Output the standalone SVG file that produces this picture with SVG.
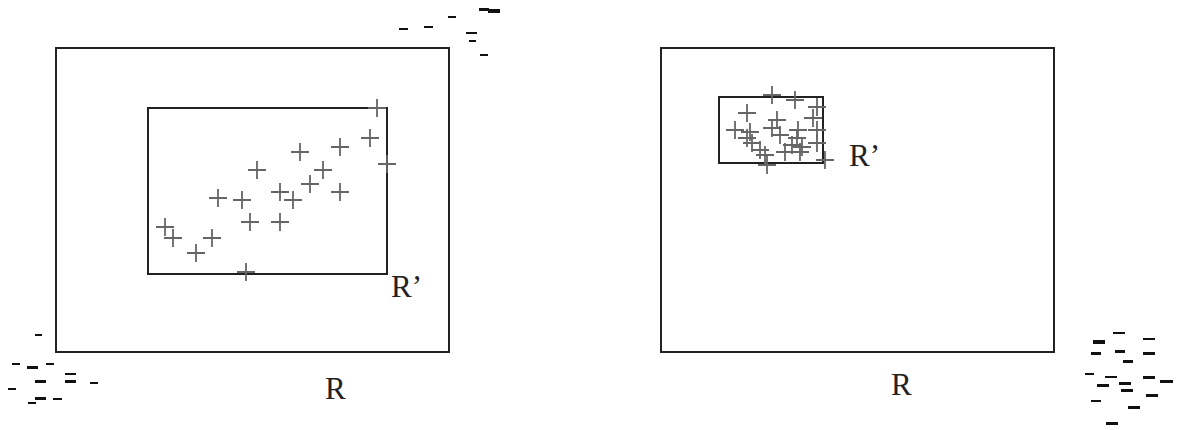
<svg xmlns="http://www.w3.org/2000/svg" width="1181" height="430" viewBox="0 0 1181 430">
<style>
.box{fill:none;stroke:#222;stroke-width:2}
.p{fill:none;stroke:#666;stroke-width:1.8}
.lbl{font-family:"Liberation Serif",serif;font-size:31px;fill:#222}
.n{fill:#111}
</style>
<defs>
<path id="pl" class="p" d="M-9,0H9M0,-9V9"/>
</defs>
<rect width="1181" height="430" fill="#fff"/>
<g id="left-R">
<rect class="box" x="56" y="48" width="393" height="304"/>
<text class="lbl" x="325" y="399">R</text>
</g>
<g id="left-Rp">
<rect class="box" x="148" y="108" width="239" height="166"/>
<text class="lbl" x="391" y="297">R’</text>
</g>
<g id="left-points">
<use href="#pl" x="377" y="108"/>
<use href="#pl" x="370" y="138"/>
<use href="#pl" x="340" y="147"/>
<use href="#pl" x="300" y="152"/>
<use href="#pl" x="387" y="164"/>
<use href="#pl" x="257" y="170"/>
<use href="#pl" x="323" y="170"/>
<use href="#pl" x="310" y="184"/>
<use href="#pl" x="340" y="192"/>
<use href="#pl" x="280" y="192"/>
<use href="#pl" x="293" y="200"/>
<use href="#pl" x="218" y="198"/>
<use href="#pl" x="242" y="200"/>
<use href="#pl" x="250" y="222"/>
<use href="#pl" x="280" y="222"/>
<use href="#pl" x="165" y="227"/>
<use href="#pl" x="173" y="238"/>
<use href="#pl" x="212" y="238"/>
<use href="#pl" x="196" y="253"/>
<use href="#pl" x="246" y="272"/>
</g>
<g id="right-R">
<rect class="box" x="661" y="48" width="393" height="304"/>
<text class="lbl" x="891" y="395">R</text>
</g>
<g id="right-Rp">
<rect class="box" x="719" y="97" width="104" height="66"/>
<text class="lbl" x="849" y="166">R’</text>
</g>
<g id="right-points">
<use href="#pl" x="772" y="95"/>
<use href="#pl" x="795" y="100"/>
<use href="#pl" x="817" y="107"/>
<use href="#pl" x="747" y="113"/>
<use href="#pl" x="777" y="120"/>
<use href="#pl" x="813" y="118"/>
<use href="#pl" x="735" y="130"/>
<use href="#pl" x="772" y="128"/>
<use href="#pl" x="798" y="130"/>
<use href="#pl" x="817" y="130"/>
<use href="#pl" x="750" y="132"/>
<use href="#pl" x="747" y="138"/>
<use href="#pl" x="780" y="135"/>
<use href="#pl" x="797" y="138"/>
<use href="#pl" x="752" y="143"/>
<use href="#pl" x="792" y="145"/>
<use href="#pl" x="802" y="147"/>
<use href="#pl" x="817" y="143"/>
<use href="#pl" x="760" y="150"/>
<use href="#pl" x="785" y="152"/>
<use href="#pl" x="800" y="152"/>
<use href="#pl" x="765" y="155"/>
<use href="#pl" x="767" y="165"/>
<use href="#pl" x="825" y="160"/>
</g>
<g id="noise">
<rect class="n" x="479" y="8" width="10" height="3"/>
<rect class="n" x="488" y="9" width="12" height="4"/>
<rect class="n" x="448" y="16" width="8" height="2"/>
<rect class="n" x="424" y="26" width="9" height="2"/>
<rect class="n" x="399" y="28" width="9" height="2"/>
<rect class="n" x="466" y="32" width="11" height="2"/>
<rect class="n" x="469" y="40" width="7" height="2"/>
<rect class="n" x="480" y="54" width="8" height="2"/>
<rect class="n" x="35" y="334" width="7" height="2"/>
<rect class="n" x="12" y="363" width="8" height="2"/>
<rect class="n" x="27" y="366" width="11" height="3"/>
<rect class="n" x="46" y="363" width="8" height="2"/>
<rect class="n" x="65" y="373" width="11" height="2"/>
<rect class="n" x="35" y="380" width="11" height="3"/>
<rect class="n" x="65" y="380" width="11" height="3"/>
<rect class="n" x="90" y="382" width="8" height="2"/>
<rect class="n" x="8" y="388" width="8" height="2"/>
<rect class="n" x="35" y="397" width="11" height="3"/>
<rect class="n" x="28" y="402" width="8" height="2"/>
<rect class="n" x="53" y="398" width="9" height="2"/>
<rect class="n" x="1113" y="332" width="12" height="2"/>
<rect class="n" x="1143" y="338" width="12" height="2"/>
<rect class="n" x="1093" y="340" width="12" height="4"/>
<rect class="n" x="1091" y="352" width="10" height="3"/>
<rect class="n" x="1115" y="350" width="10" height="3"/>
<rect class="n" x="1143" y="352" width="12" height="3"/>
<rect class="n" x="1123" y="360" width="10" height="3"/>
<rect class="n" x="1085" y="373" width="9" height="2"/>
<rect class="n" x="1105" y="376" width="12" height="2"/>
<rect class="n" x="1097" y="384" width="12" height="3"/>
<rect class="n" x="1119" y="382" width="12" height="3"/>
<rect class="n" x="1121" y="389" width="12" height="3"/>
<rect class="n" x="1143" y="376" width="12" height="3"/>
<rect class="n" x="1160" y="380" width="13" height="3"/>
<rect class="n" x="1146" y="394" width="12" height="3"/>
<rect class="n" x="1091" y="400" width="10" height="2"/>
<rect class="n" x="1128" y="406" width="12" height="3"/>
<rect class="n" x="1106" y="422" width="12" height="3"/>
</g>
</svg>
